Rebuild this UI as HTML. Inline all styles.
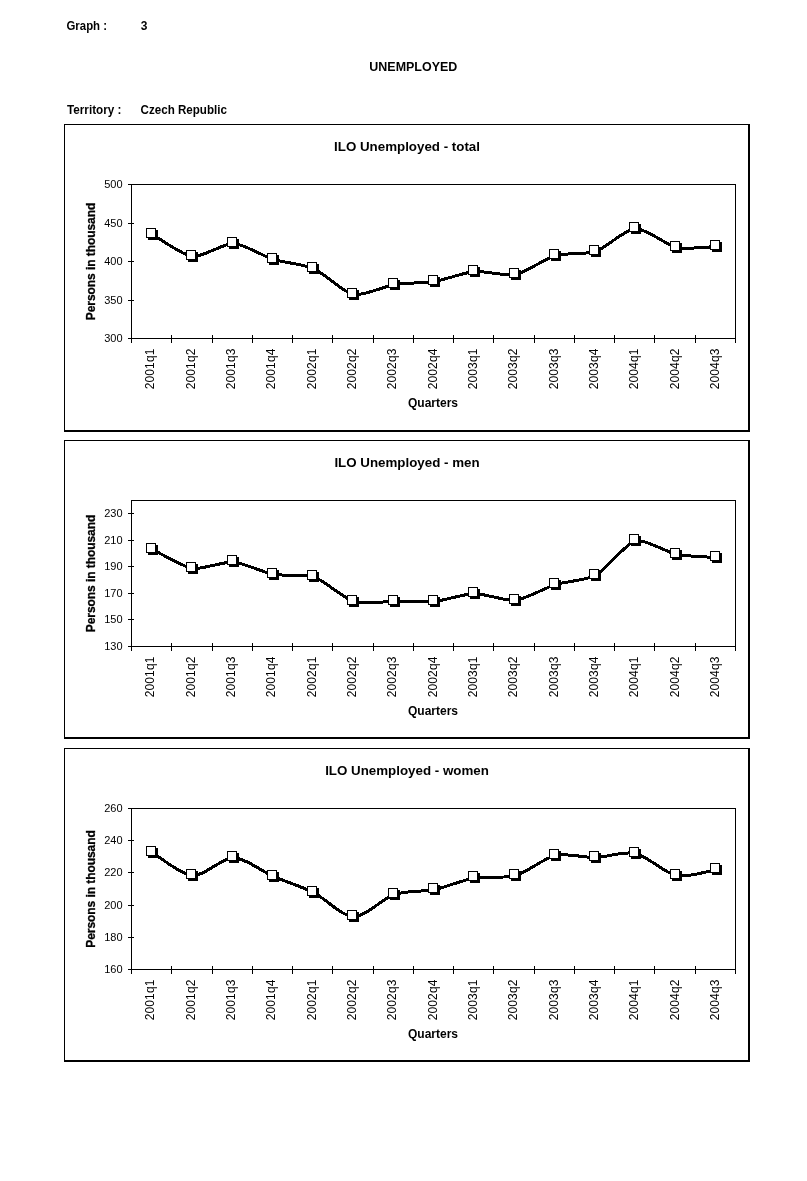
<!DOCTYPE html>
<html><head><meta charset="utf-8"><title>Unemployed</title>
<style>
html,body{margin:0;padding:0;background:#fff;}
body{width:807px;height:1181px;overflow:hidden;font-family:"Liberation Sans",sans-serif;}
svg{display:block;}
</style></head><body>
<svg width="807" height="1181" viewBox="0 0 807 1181">
<rect x="0" y="0" width="807" height="1181" fill="#fff"/>
<g shape-rendering="crispEdges">
<rect x="64" y="124" width="686" height="1" fill="#000"/>
<rect x="64" y="124" width="1" height="308" fill="#000"/>
<rect x="748" y="124" width="2" height="308" fill="#000"/>
<rect x="64" y="430" width="686" height="2" fill="#000"/>
<rect x="131" y="184" width="605" height="1" fill="#000"/>
<rect x="131" y="338" width="605" height="1" fill="#000"/>
<rect x="131" y="184" width="1" height="155" fill="#000"/>
<rect x="735" y="184" width="1" height="155" fill="#000"/>
<rect x="128" y="184" width="6" height="1" fill="#000"/>
<rect x="128" y="223" width="6" height="1" fill="#000"/>
<rect x="128" y="261" width="6" height="1" fill="#000"/>
<rect x="128" y="300" width="6" height="1" fill="#000"/>
<rect x="128" y="338" width="6" height="1" fill="#000"/>
<rect x="131" y="335" width="1" height="8" fill="#000"/>
<rect x="171" y="335" width="1" height="8" fill="#000"/>
<rect x="212" y="335" width="1" height="8" fill="#000"/>
<rect x="252" y="335" width="1" height="8" fill="#000"/>
<rect x="292" y="335" width="1" height="8" fill="#000"/>
<rect x="332" y="335" width="1" height="8" fill="#000"/>
<rect x="373" y="335" width="1" height="8" fill="#000"/>
<rect x="413" y="335" width="1" height="8" fill="#000"/>
<rect x="453" y="335" width="1" height="8" fill="#000"/>
<rect x="493" y="335" width="1" height="8" fill="#000"/>
<rect x="534" y="335" width="1" height="8" fill="#000"/>
<rect x="574" y="335" width="1" height="8" fill="#000"/>
<rect x="614" y="335" width="1" height="8" fill="#000"/>
<rect x="654" y="335" width="1" height="8" fill="#000"/>
<rect x="695" y="335" width="1" height="8" fill="#000"/>
<rect x="735" y="335" width="1" height="8" fill="#000"/>
<rect x="64" y="440" width="686" height="1" fill="#000"/>
<rect x="64" y="440" width="1" height="299" fill="#000"/>
<rect x="748" y="440" width="2" height="299" fill="#000"/>
<rect x="64" y="737" width="686" height="2" fill="#000"/>
<rect x="131" y="500" width="605" height="1" fill="#000"/>
<rect x="131" y="646" width="605" height="1" fill="#000"/>
<rect x="131" y="500" width="1" height="147" fill="#000"/>
<rect x="735" y="500" width="1" height="147" fill="#000"/>
<rect x="128" y="513" width="6" height="1" fill="#000"/>
<rect x="128" y="540" width="6" height="1" fill="#000"/>
<rect x="128" y="566" width="6" height="1" fill="#000"/>
<rect x="128" y="593" width="6" height="1" fill="#000"/>
<rect x="128" y="619" width="6" height="1" fill="#000"/>
<rect x="128" y="646" width="6" height="1" fill="#000"/>
<rect x="131" y="643" width="1" height="8" fill="#000"/>
<rect x="171" y="643" width="1" height="8" fill="#000"/>
<rect x="212" y="643" width="1" height="8" fill="#000"/>
<rect x="252" y="643" width="1" height="8" fill="#000"/>
<rect x="292" y="643" width="1" height="8" fill="#000"/>
<rect x="332" y="643" width="1" height="8" fill="#000"/>
<rect x="373" y="643" width="1" height="8" fill="#000"/>
<rect x="413" y="643" width="1" height="8" fill="#000"/>
<rect x="453" y="643" width="1" height="8" fill="#000"/>
<rect x="493" y="643" width="1" height="8" fill="#000"/>
<rect x="534" y="643" width="1" height="8" fill="#000"/>
<rect x="574" y="643" width="1" height="8" fill="#000"/>
<rect x="614" y="643" width="1" height="8" fill="#000"/>
<rect x="654" y="643" width="1" height="8" fill="#000"/>
<rect x="695" y="643" width="1" height="8" fill="#000"/>
<rect x="735" y="643" width="1" height="8" fill="#000"/>
<rect x="64" y="748" width="686" height="1" fill="#000"/>
<rect x="64" y="748" width="1" height="314" fill="#000"/>
<rect x="748" y="748" width="2" height="314" fill="#000"/>
<rect x="64" y="1060" width="686" height="2" fill="#000"/>
<rect x="131" y="808" width="605" height="1" fill="#000"/>
<rect x="131" y="969" width="605" height="1" fill="#000"/>
<rect x="131" y="808" width="1" height="162" fill="#000"/>
<rect x="735" y="808" width="1" height="162" fill="#000"/>
<rect x="128" y="808" width="6" height="1" fill="#000"/>
<rect x="128" y="840" width="6" height="1" fill="#000"/>
<rect x="128" y="872" width="6" height="1" fill="#000"/>
<rect x="128" y="905" width="6" height="1" fill="#000"/>
<rect x="128" y="937" width="6" height="1" fill="#000"/>
<rect x="128" y="969" width="6" height="1" fill="#000"/>
<rect x="131" y="966" width="1" height="8" fill="#000"/>
<rect x="171" y="966" width="1" height="8" fill="#000"/>
<rect x="212" y="966" width="1" height="8" fill="#000"/>
<rect x="252" y="966" width="1" height="8" fill="#000"/>
<rect x="292" y="966" width="1" height="8" fill="#000"/>
<rect x="332" y="966" width="1" height="8" fill="#000"/>
<rect x="373" y="966" width="1" height="8" fill="#000"/>
<rect x="413" y="966" width="1" height="8" fill="#000"/>
<rect x="453" y="966" width="1" height="8" fill="#000"/>
<rect x="493" y="966" width="1" height="8" fill="#000"/>
<rect x="534" y="966" width="1" height="8" fill="#000"/>
<rect x="574" y="966" width="1" height="8" fill="#000"/>
<rect x="614" y="966" width="1" height="8" fill="#000"/>
<rect x="654" y="966" width="1" height="8" fill="#000"/>
<rect x="695" y="966" width="1" height="8" fill="#000"/>
<rect x="735" y="966" width="1" height="8" fill="#000"/>
</g>
<g font-family="Liberation Sans, sans-serif" fill="#000" opacity="0.999">
<text x="66.5" y="29.8" font-size="12" font-weight="bold" textLength="40.5" lengthAdjust="spacingAndGlyphs">Graph :</text>
<text x="140.8" y="29.8" font-size="12" font-weight="bold">3</text>
<text x="369.3" y="71.3" font-size="13" font-weight="bold" textLength="88" lengthAdjust="spacingAndGlyphs">UNEMPLOYED</text>
<text x="67" y="113.7" font-size="12" font-weight="bold" textLength="54.5" lengthAdjust="spacingAndGlyphs">Territory :</text>
<text x="140.6" y="113.7" font-size="12" font-weight="bold" textLength="86.3" lengthAdjust="spacingAndGlyphs">Czech Republic</text>
<text x="407" y="151" font-size="13.33" font-weight="bold" text-anchor="middle">ILO Unemployed - total</text>
<text x="122.5" y="188" font-size="11" text-anchor="end">500</text>
<text x="122.5" y="227" font-size="11" text-anchor="end">450</text>
<text x="122.5" y="265" font-size="11" text-anchor="end">400</text>
<text x="122.5" y="304" font-size="11" text-anchor="end">350</text>
<text x="122.5" y="342" font-size="11" text-anchor="end">300</text>
<text transform="translate(95.2,261.5) rotate(-90)" font-size="12" font-weight="bold" text-anchor="middle" letter-spacing="-0.07" stroke="#000" stroke-width="0.3">Persons in thousand</text>
<text transform="translate(154.4,348.4) rotate(-90)" font-size="12" letter-spacing="0.15" text-anchor="end">2001q1</text>
<text transform="translate(194.8,348.4) rotate(-90)" font-size="12" letter-spacing="0.15" text-anchor="end">2001q2</text>
<text transform="translate(235.1,348.4) rotate(-90)" font-size="12" letter-spacing="0.15" text-anchor="end">2001q3</text>
<text transform="translate(275.4,348.4) rotate(-90)" font-size="12" letter-spacing="0.15" text-anchor="end">2001q4</text>
<text transform="translate(315.8,348.4) rotate(-90)" font-size="12" letter-spacing="0.15" text-anchor="end">2002q1</text>
<text transform="translate(356.1,348.4) rotate(-90)" font-size="12" letter-spacing="0.15" text-anchor="end">2002q2</text>
<text transform="translate(396.4,348.4) rotate(-90)" font-size="12" letter-spacing="0.15" text-anchor="end">2002q3</text>
<text transform="translate(436.8,348.4) rotate(-90)" font-size="12" letter-spacing="0.15" text-anchor="end">2002q4</text>
<text transform="translate(477.1,348.4) rotate(-90)" font-size="12" letter-spacing="0.15" text-anchor="end">2003q1</text>
<text transform="translate(517.4,348.4) rotate(-90)" font-size="12" letter-spacing="0.15" text-anchor="end">2003q2</text>
<text transform="translate(557.7,348.4) rotate(-90)" font-size="12" letter-spacing="0.15" text-anchor="end">2003q3</text>
<text transform="translate(598.1,348.4) rotate(-90)" font-size="12" letter-spacing="0.15" text-anchor="end">2003q4</text>
<text transform="translate(638.4,348.4) rotate(-90)" font-size="12" letter-spacing="0.15" text-anchor="end">2004q1</text>
<text transform="translate(678.7,348.4) rotate(-90)" font-size="12" letter-spacing="0.15" text-anchor="end">2004q2</text>
<text transform="translate(719.1,348.4) rotate(-90)" font-size="12" letter-spacing="0.15" text-anchor="end">2004q3</text>
<text x="433" y="406.8" font-size="12" font-weight="bold" text-anchor="middle">Quarters</text>
<text x="407" y="467" font-size="13.33" font-weight="bold" text-anchor="middle">ILO Unemployed - men</text>
<text x="122.5" y="517" font-size="11" text-anchor="end">230</text>
<text x="122.5" y="544" font-size="11" text-anchor="end">210</text>
<text x="122.5" y="570" font-size="11" text-anchor="end">190</text>
<text x="122.5" y="597" font-size="11" text-anchor="end">170</text>
<text x="122.5" y="623" font-size="11" text-anchor="end">150</text>
<text x="122.5" y="650" font-size="11" text-anchor="end">130</text>
<text transform="translate(95.2,573.5) rotate(-90)" font-size="12" font-weight="bold" text-anchor="middle" letter-spacing="-0.07" stroke="#000" stroke-width="0.3">Persons in thousand</text>
<text transform="translate(154.4,656.4) rotate(-90)" font-size="12" letter-spacing="0.15" text-anchor="end">2001q1</text>
<text transform="translate(194.8,656.4) rotate(-90)" font-size="12" letter-spacing="0.15" text-anchor="end">2001q2</text>
<text transform="translate(235.1,656.4) rotate(-90)" font-size="12" letter-spacing="0.15" text-anchor="end">2001q3</text>
<text transform="translate(275.4,656.4) rotate(-90)" font-size="12" letter-spacing="0.15" text-anchor="end">2001q4</text>
<text transform="translate(315.8,656.4) rotate(-90)" font-size="12" letter-spacing="0.15" text-anchor="end">2002q1</text>
<text transform="translate(356.1,656.4) rotate(-90)" font-size="12" letter-spacing="0.15" text-anchor="end">2002q2</text>
<text transform="translate(396.4,656.4) rotate(-90)" font-size="12" letter-spacing="0.15" text-anchor="end">2002q3</text>
<text transform="translate(436.8,656.4) rotate(-90)" font-size="12" letter-spacing="0.15" text-anchor="end">2002q4</text>
<text transform="translate(477.1,656.4) rotate(-90)" font-size="12" letter-spacing="0.15" text-anchor="end">2003q1</text>
<text transform="translate(517.4,656.4) rotate(-90)" font-size="12" letter-spacing="0.15" text-anchor="end">2003q2</text>
<text transform="translate(557.7,656.4) rotate(-90)" font-size="12" letter-spacing="0.15" text-anchor="end">2003q3</text>
<text transform="translate(598.1,656.4) rotate(-90)" font-size="12" letter-spacing="0.15" text-anchor="end">2003q4</text>
<text transform="translate(638.4,656.4) rotate(-90)" font-size="12" letter-spacing="0.15" text-anchor="end">2004q1</text>
<text transform="translate(678.7,656.4) rotate(-90)" font-size="12" letter-spacing="0.15" text-anchor="end">2004q2</text>
<text transform="translate(719.1,656.4) rotate(-90)" font-size="12" letter-spacing="0.15" text-anchor="end">2004q3</text>
<text x="433" y="714.8" font-size="12" font-weight="bold" text-anchor="middle">Quarters</text>
<text x="407" y="775" font-size="13.33" font-weight="bold" text-anchor="middle">ILO Unemployed - women</text>
<text x="122.5" y="812" font-size="11" text-anchor="end">260</text>
<text x="122.5" y="844" font-size="11" text-anchor="end">240</text>
<text x="122.5" y="876" font-size="11" text-anchor="end">220</text>
<text x="122.5" y="909" font-size="11" text-anchor="end">200</text>
<text x="122.5" y="941" font-size="11" text-anchor="end">180</text>
<text x="122.5" y="973" font-size="11" text-anchor="end">160</text>
<text transform="translate(95.2,889.0) rotate(-90)" font-size="12" font-weight="bold" text-anchor="middle" letter-spacing="-0.07" stroke="#000" stroke-width="0.3">Persons in thousand</text>
<text transform="translate(154.4,979.4) rotate(-90)" font-size="12" letter-spacing="0.15" text-anchor="end">2001q1</text>
<text transform="translate(194.8,979.4) rotate(-90)" font-size="12" letter-spacing="0.15" text-anchor="end">2001q2</text>
<text transform="translate(235.1,979.4) rotate(-90)" font-size="12" letter-spacing="0.15" text-anchor="end">2001q3</text>
<text transform="translate(275.4,979.4) rotate(-90)" font-size="12" letter-spacing="0.15" text-anchor="end">2001q4</text>
<text transform="translate(315.8,979.4) rotate(-90)" font-size="12" letter-spacing="0.15" text-anchor="end">2002q1</text>
<text transform="translate(356.1,979.4) rotate(-90)" font-size="12" letter-spacing="0.15" text-anchor="end">2002q2</text>
<text transform="translate(396.4,979.4) rotate(-90)" font-size="12" letter-spacing="0.15" text-anchor="end">2002q3</text>
<text transform="translate(436.8,979.4) rotate(-90)" font-size="12" letter-spacing="0.15" text-anchor="end">2002q4</text>
<text transform="translate(477.1,979.4) rotate(-90)" font-size="12" letter-spacing="0.15" text-anchor="end">2003q1</text>
<text transform="translate(517.4,979.4) rotate(-90)" font-size="12" letter-spacing="0.15" text-anchor="end">2003q2</text>
<text transform="translate(557.7,979.4) rotate(-90)" font-size="12" letter-spacing="0.15" text-anchor="end">2003q3</text>
<text transform="translate(598.1,979.4) rotate(-90)" font-size="12" letter-spacing="0.15" text-anchor="end">2003q4</text>
<text transform="translate(638.4,979.4) rotate(-90)" font-size="12" letter-spacing="0.15" text-anchor="end">2004q1</text>
<text transform="translate(678.7,979.4) rotate(-90)" font-size="12" letter-spacing="0.15" text-anchor="end">2004q2</text>
<text transform="translate(719.1,979.4) rotate(-90)" font-size="12" letter-spacing="0.15" text-anchor="end">2004q3</text>
<text x="433" y="1037.8" font-size="12" font-weight="bold" text-anchor="middle">Quarters</text>
</g>
<path d="M152.50,234.50 C157.30,237.14 182.78,255.42 192.50,256.50 C202.22,257.58 223.78,243.14 233.50,243.50 C243.22,243.86 263.90,256.50 273.50,259.50 C283.10,262.50 303.90,264.30 313.50,268.50 C323.10,272.70 343.78,292.58 353.50,294.50 C363.22,296.42 384.78,286.06 394.50,284.50 C404.22,282.94 424.90,283.06 434.50,281.50 C444.10,279.94 464.78,272.34 474.50,271.50 C484.22,270.66 505.78,276.42 515.50,274.50 C525.22,272.58 545.90,258.26 555.50,255.50 C565.10,252.74 585.90,254.74 595.50,251.50 C605.10,248.26 625.78,228.98 635.50,228.50 C645.22,228.02 666.78,245.34 676.50,247.50 C686.22,249.66 711.70,246.62 716.50,246.50" fill="none" stroke="#000" stroke-width="3" stroke-linejoin="round" stroke-linecap="butt" shape-rendering="crispEdges"/>
<g shape-rendering="crispEdges">
<rect x="148" y="230" width="10" height="10" fill="#000"/>
<rect x="146" y="228" width="10" height="10" fill="#000"/>
<rect x="147" y="229" width="8" height="8" fill="#fff"/>
<rect x="188" y="252" width="10" height="10" fill="#000"/>
<rect x="186" y="250" width="10" height="10" fill="#000"/>
<rect x="187" y="251" width="8" height="8" fill="#fff"/>
<rect x="229" y="239" width="10" height="10" fill="#000"/>
<rect x="227" y="237" width="10" height="10" fill="#000"/>
<rect x="228" y="238" width="8" height="8" fill="#fff"/>
<rect x="269" y="255" width="10" height="10" fill="#000"/>
<rect x="267" y="253" width="10" height="10" fill="#000"/>
<rect x="268" y="254" width="8" height="8" fill="#fff"/>
<rect x="309" y="264" width="10" height="10" fill="#000"/>
<rect x="307" y="262" width="10" height="10" fill="#000"/>
<rect x="308" y="263" width="8" height="8" fill="#fff"/>
<rect x="349" y="290" width="10" height="10" fill="#000"/>
<rect x="347" y="288" width="10" height="10" fill="#000"/>
<rect x="348" y="289" width="8" height="8" fill="#fff"/>
<rect x="390" y="280" width="10" height="10" fill="#000"/>
<rect x="388" y="278" width="10" height="10" fill="#000"/>
<rect x="389" y="279" width="8" height="8" fill="#fff"/>
<rect x="430" y="277" width="10" height="10" fill="#000"/>
<rect x="428" y="275" width="10" height="10" fill="#000"/>
<rect x="429" y="276" width="8" height="8" fill="#fff"/>
<rect x="470" y="267" width="10" height="10" fill="#000"/>
<rect x="468" y="265" width="10" height="10" fill="#000"/>
<rect x="469" y="266" width="8" height="8" fill="#fff"/>
<rect x="511" y="270" width="10" height="10" fill="#000"/>
<rect x="509" y="268" width="10" height="10" fill="#000"/>
<rect x="510" y="269" width="8" height="8" fill="#fff"/>
<rect x="551" y="251" width="10" height="10" fill="#000"/>
<rect x="549" y="249" width="10" height="10" fill="#000"/>
<rect x="550" y="250" width="8" height="8" fill="#fff"/>
<rect x="591" y="247" width="10" height="10" fill="#000"/>
<rect x="589" y="245" width="10" height="10" fill="#000"/>
<rect x="590" y="246" width="8" height="8" fill="#fff"/>
<rect x="631" y="224" width="10" height="10" fill="#000"/>
<rect x="629" y="222" width="10" height="10" fill="#000"/>
<rect x="630" y="223" width="8" height="8" fill="#fff"/>
<rect x="672" y="243" width="10" height="10" fill="#000"/>
<rect x="670" y="241" width="10" height="10" fill="#000"/>
<rect x="671" y="242" width="8" height="8" fill="#fff"/>
<rect x="712" y="242" width="10" height="10" fill="#000"/>
<rect x="710" y="240" width="10" height="10" fill="#000"/>
<rect x="711" y="241" width="8" height="8" fill="#fff"/>
</g>
<path d="M152.50,549.50 C156.50,551.40 184.40,567.26 192.50,568.50 C200.60,569.74 225.40,561.30 233.50,561.90 C241.60,562.50 265.50,573.04 273.50,574.50 C281.50,575.96 305.50,573.80 313.50,576.50 C321.50,579.20 345.40,599.00 353.50,601.50 C361.60,604.00 386.40,601.50 394.50,601.50 C402.60,601.50 426.50,602.30 434.50,601.50 C442.50,600.70 466.40,593.60 474.50,593.50 C482.60,593.40 507.40,601.40 515.50,600.50 C523.60,599.60 547.50,587.00 555.50,584.50 C563.50,582.00 587.50,579.90 595.50,575.50 C603.50,571.10 627.40,542.60 635.50,540.50 C643.60,538.40 668.40,552.80 676.50,554.50 C684.60,556.20 712.50,557.20 716.50,557.50" fill="none" stroke="#000" stroke-width="3" stroke-linejoin="round" stroke-linecap="butt" shape-rendering="crispEdges"/>
<g shape-rendering="crispEdges">
<rect x="148" y="545" width="10" height="10" fill="#000"/>
<rect x="146" y="543" width="10" height="10" fill="#000"/>
<rect x="147" y="544" width="8" height="8" fill="#fff"/>
<rect x="188" y="564" width="10" height="10" fill="#000"/>
<rect x="186" y="562" width="10" height="10" fill="#000"/>
<rect x="187" y="563" width="8" height="8" fill="#fff"/>
<rect x="229" y="557" width="10" height="10" fill="#000"/>
<rect x="227" y="555" width="10" height="10" fill="#000"/>
<rect x="228" y="556" width="8" height="8" fill="#fff"/>
<rect x="269" y="570" width="10" height="10" fill="#000"/>
<rect x="267" y="568" width="10" height="10" fill="#000"/>
<rect x="268" y="569" width="8" height="8" fill="#fff"/>
<rect x="309" y="572" width="10" height="10" fill="#000"/>
<rect x="307" y="570" width="10" height="10" fill="#000"/>
<rect x="308" y="571" width="8" height="8" fill="#fff"/>
<rect x="349" y="597" width="10" height="10" fill="#000"/>
<rect x="347" y="595" width="10" height="10" fill="#000"/>
<rect x="348" y="596" width="8" height="8" fill="#fff"/>
<rect x="390" y="597" width="10" height="10" fill="#000"/>
<rect x="388" y="595" width="10" height="10" fill="#000"/>
<rect x="389" y="596" width="8" height="8" fill="#fff"/>
<rect x="430" y="597" width="10" height="10" fill="#000"/>
<rect x="428" y="595" width="10" height="10" fill="#000"/>
<rect x="429" y="596" width="8" height="8" fill="#fff"/>
<rect x="470" y="589" width="10" height="10" fill="#000"/>
<rect x="468" y="587" width="10" height="10" fill="#000"/>
<rect x="469" y="588" width="8" height="8" fill="#fff"/>
<rect x="511" y="596" width="10" height="10" fill="#000"/>
<rect x="509" y="594" width="10" height="10" fill="#000"/>
<rect x="510" y="595" width="8" height="8" fill="#fff"/>
<rect x="551" y="580" width="10" height="10" fill="#000"/>
<rect x="549" y="578" width="10" height="10" fill="#000"/>
<rect x="550" y="579" width="8" height="8" fill="#fff"/>
<rect x="591" y="571" width="10" height="10" fill="#000"/>
<rect x="589" y="569" width="10" height="10" fill="#000"/>
<rect x="590" y="570" width="8" height="8" fill="#fff"/>
<rect x="631" y="536" width="10" height="10" fill="#000"/>
<rect x="629" y="534" width="10" height="10" fill="#000"/>
<rect x="630" y="535" width="8" height="8" fill="#fff"/>
<rect x="672" y="550" width="10" height="10" fill="#000"/>
<rect x="670" y="548" width="10" height="10" fill="#000"/>
<rect x="671" y="549" width="8" height="8" fill="#fff"/>
<rect x="712" y="553" width="10" height="10" fill="#000"/>
<rect x="710" y="551" width="10" height="10" fill="#000"/>
<rect x="711" y="552" width="8" height="8" fill="#fff"/>
</g>
<path d="M152.50,852.50 C158.50,855.95 180.35,874.69 192.50,875.50 C204.65,876.31 221.35,857.75 233.50,857.90 C245.65,858.05 261.50,871.31 273.50,876.50 C285.50,881.69 301.50,886.50 313.50,892.50 C325.50,898.50 341.35,916.20 353.50,916.50 C365.65,916.80 382.35,898.55 394.50,894.50 C406.65,890.45 422.50,891.98 434.50,889.50 C446.50,887.02 462.35,880.10 474.50,878.00 C486.65,875.90 503.35,878.88 515.50,875.50 C527.65,872.12 543.50,858.20 555.50,855.50 C567.50,852.80 583.50,857.80 595.50,857.50 C607.50,857.20 623.35,850.80 635.50,853.50 C647.65,856.20 664.35,873.10 676.50,875.50 C688.65,877.90 710.50,870.40 716.50,869.50" fill="none" stroke="#000" stroke-width="3" stroke-linejoin="round" stroke-linecap="butt" shape-rendering="crispEdges"/>
<g shape-rendering="crispEdges">
<rect x="148" y="848" width="10" height="10" fill="#000"/>
<rect x="146" y="846" width="10" height="10" fill="#000"/>
<rect x="147" y="847" width="8" height="8" fill="#fff"/>
<rect x="188" y="871" width="10" height="10" fill="#000"/>
<rect x="186" y="869" width="10" height="10" fill="#000"/>
<rect x="187" y="870" width="8" height="8" fill="#fff"/>
<rect x="229" y="853" width="10" height="10" fill="#000"/>
<rect x="227" y="851" width="10" height="10" fill="#000"/>
<rect x="228" y="852" width="8" height="8" fill="#fff"/>
<rect x="269" y="872" width="10" height="10" fill="#000"/>
<rect x="267" y="870" width="10" height="10" fill="#000"/>
<rect x="268" y="871" width="8" height="8" fill="#fff"/>
<rect x="309" y="888" width="10" height="10" fill="#000"/>
<rect x="307" y="886" width="10" height="10" fill="#000"/>
<rect x="308" y="887" width="8" height="8" fill="#fff"/>
<rect x="349" y="912" width="10" height="10" fill="#000"/>
<rect x="347" y="910" width="10" height="10" fill="#000"/>
<rect x="348" y="911" width="8" height="8" fill="#fff"/>
<rect x="390" y="890" width="10" height="10" fill="#000"/>
<rect x="388" y="888" width="10" height="10" fill="#000"/>
<rect x="389" y="889" width="8" height="8" fill="#fff"/>
<rect x="430" y="885" width="10" height="10" fill="#000"/>
<rect x="428" y="883" width="10" height="10" fill="#000"/>
<rect x="429" y="884" width="8" height="8" fill="#fff"/>
<rect x="470" y="873" width="10" height="10" fill="#000"/>
<rect x="468" y="871" width="10" height="10" fill="#000"/>
<rect x="469" y="872" width="8" height="8" fill="#fff"/>
<rect x="511" y="871" width="10" height="10" fill="#000"/>
<rect x="509" y="869" width="10" height="10" fill="#000"/>
<rect x="510" y="870" width="8" height="8" fill="#fff"/>
<rect x="551" y="851" width="10" height="10" fill="#000"/>
<rect x="549" y="849" width="10" height="10" fill="#000"/>
<rect x="550" y="850" width="8" height="8" fill="#fff"/>
<rect x="591" y="853" width="10" height="10" fill="#000"/>
<rect x="589" y="851" width="10" height="10" fill="#000"/>
<rect x="590" y="852" width="8" height="8" fill="#fff"/>
<rect x="631" y="849" width="10" height="10" fill="#000"/>
<rect x="629" y="847" width="10" height="10" fill="#000"/>
<rect x="630" y="848" width="8" height="8" fill="#fff"/>
<rect x="672" y="871" width="10" height="10" fill="#000"/>
<rect x="670" y="869" width="10" height="10" fill="#000"/>
<rect x="671" y="870" width="8" height="8" fill="#fff"/>
<rect x="712" y="865" width="10" height="10" fill="#000"/>
<rect x="710" y="863" width="10" height="10" fill="#000"/>
<rect x="711" y="864" width="8" height="8" fill="#fff"/>
</g>
</svg>
</body></html>
